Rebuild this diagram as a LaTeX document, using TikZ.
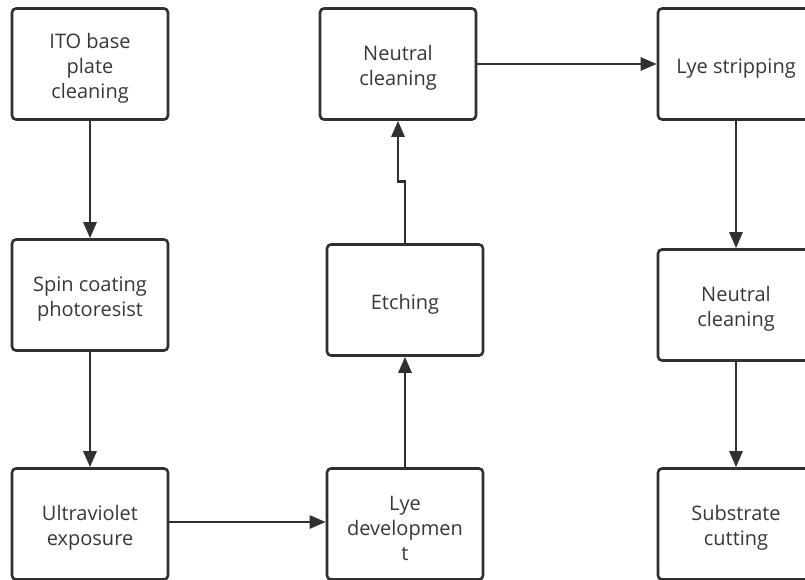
\documentclass[tikz,border=0pt]{standalone}
\usepackage{fontspec}
\setmainfont{Open Sans}
\usetikzlibrary{arrows.meta}
\definecolor{linegray}{HTML}{303030}
\definecolor{textgray}{HTML}{383838}
\newcommand{\toppad}{\rule{0pt}{23pt}}
\begin{document}
\begin{tikzpicture}[x=1pt,y=-1pt,
		stepbox/.style={rectangle,rounded corners=4pt,draw=linegray,line width=2.6pt,fill=white,
			minimum width=156pt,minimum height=111pt,align=center,text=textgray,
			font=\fontsize{20}{25}\selectfont},
		flow/.style={draw=linegray,line width=2.6pt,-{Triangle[length=16pt,width=13pt]}}]
	\clip (0,0) rectangle (805,579);
	\fill[white] (0,0) rectangle (805,579);
	% first column
	\node[stepbox](ito) at (90,64) {\toppad ITO base\\plate\\cleaning};
	\node[stepbox](spin) at (90,295) {\toppad Spin coating\\photoresist};
	\node[stepbox](uv) at (90,524) {\toppad Ultraviolet\\exposure};
	% second column
	\node[stepbox](neutral) at (398,64) {\toppad Neutral\\cleaning};
	\node[stepbox](etch) at (405,300) {\toppad Etching};
	\node[stepbox](lyedev) at (405,524) {\toppad Lye\\developmen\\t};
	% third column
	\node[stepbox](strip) at (736,64) {\toppad Lye stripping};
	\node[stepbox](neutralb) at (736,305) {\toppad Neutral\\cleaning};
	\node[stepbox](cut) at (736,524) {\toppad Substrate\\cutting};
	% connectors
	\draw[flow] (ito) -- (spin);
	\draw[flow] (spin) -- (uv);
	\draw[flow] (uv.east |- 0,522) -- (lyedev.west |- 0,522);
	\draw[flow] (lyedev) -- (etch);
	\draw[flow] (etch.north) -- ++(0,-62) -| (neutral.south);
	\draw[flow] (neutral) -- (strip);
	\draw[flow] (strip) -- (neutralb);
	\draw[flow] (neutralb) -- (cut);
\end{tikzpicture}
\end{document}
